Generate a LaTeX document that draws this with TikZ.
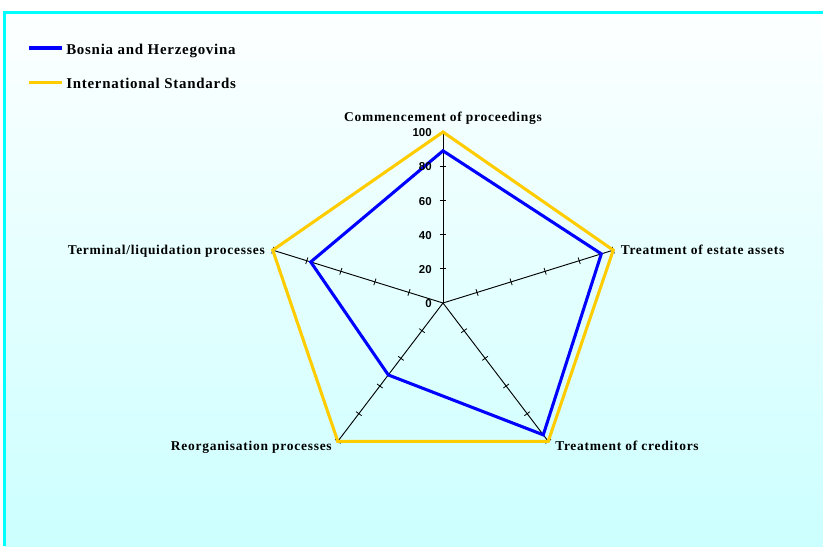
\documentclass[tikz,border=0pt]{standalone}
\usepackage{fontspec}
\setmainfont{Liberation Serif}
\newfontfamily\catfont[LetterSpace=5.5]{Liberation Serif}
\newfontfamily\legfont[LetterSpace=5]{Liberation Serif}
\newfontfamily\numfont{Liberation Sans}
\definecolor{panelcyan}{HTML}{00FFFF}
\definecolor{panelbottom}{HTML}{CCFFFF}
\definecolor{panelTop}{HTML}{FDFFFF}
\definecolor{serieblue}{HTML}{0000FF}
\definecolor{serieyellow}{HTML}{FFCC00}
\tikzset{
  catlabel/.style={font=\catfont\bfseries\fontsize{10.1pt}{12pt}\selectfont, inner sep=0pt},
  leglabel/.style={font=\legfont\bfseries\fontsize{11.2pt}{13pt}\selectfont, inner sep=0pt, anchor=base west},
  numlabel/.style={font=\numfont\bfseries\fontsize{8.6pt}{10pt}\selectfont, inner sep=0pt, anchor=east},
  spoke/.style={line width=0.7pt, black},
  tickmark/.style={line width=0.6pt, black},
  bhline/.style={line width=2.3pt, serieblue, line join=miter},
  isline/.style={line width=2.3pt, serieyellow, line join=miter},
}
\begin{document}
\begin{tikzpicture}[x=0.75pt, y=-0.75pt]
  % page and panel
  \useasboundingbox (0,0) rectangle (823,546);
  \fill[white] (0,0) rectangle (823,546);
  \shade[top color=panelTop, bottom color=panelbottom] (4.5,12) rectangle (823,546);
  \draw[panelcyan, line width=2.2pt] (4.5,546) -- (4.5,12.3) -- (823,12.3);

  % legend
  \draw[bhline] (29,48) -- (62,48);
  \node[leglabel] (legbh) at (66,54) {Bosnia and Herzegovina};
  \draw[isline] (29,82.5) -- (62,82.5);
  \node[leglabel] (legis) at (66,88.3) {International Standards};

  % radar chart
  \begin{scope}[shift={(443,303)}, x=134.25pt, y=128.25pt]
    \foreach \a/\nm in {90/c, 18/e, -54/r, -126/o, 162/t} {
      \coordinate (ax\nm) at (\a:1);
      \draw[spoke] (0,0) -- (ax\nm);
      \foreach \t in {0.2,0.4,0.6,0.8,1.0} {
        \draw[tickmark] ([shift={(\a+90:2.6pt)}]\a:\t) -- ([shift={(\a-90:2.6pt)}]\a:\t);
      }
    }
    % International Standards
    \draw[isline] (90:1) -- (18:1) -- (-54:1) -- (-126:1) -- (162:1) -- cycle;
    % Bosnia and Herzegovina
    \draw[bhline] (90:0.89) -- (18:0.93) -- (-54:0.953) -- (-126:0.52) -- (162:0.777) -- cycle;
  \end{scope}

  % scale values
  \foreach \v [count=\i from 0] in {0,20,40,60,80,100} {
    \node[numlabel] (val\i) at (432, 303-1.71*\v+0.8) {\v};
  }

  % axis titles
  \node[catlabel, anchor=base] (tcomm) at (443,121) {Commencement of proceedings};
  \node[catlabel, anchor=base west] (testate) at (620.5,254) {Treatment of estate assets};
  \node[catlabel, anchor=base west] (tcred) at (555,450.5) {Treatment of creditors};
  \node[catlabel, anchor=base east] (treorg) at (332,450.5) {Reorganisation processes};
  \node[catlabel, anchor=base east] (tterm) at (265,254) {Terminal/liquidation processes};
\end{tikzpicture}
\end{document}
